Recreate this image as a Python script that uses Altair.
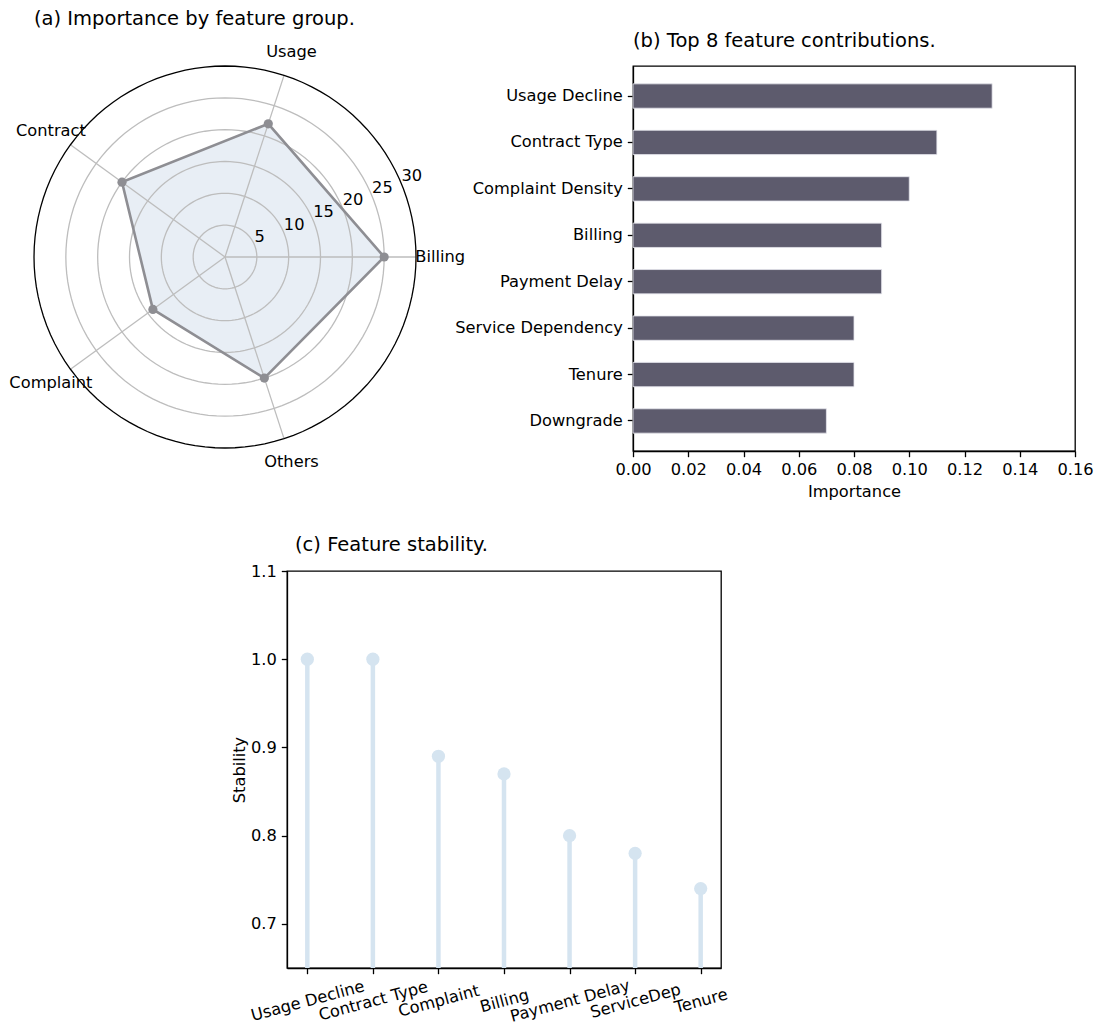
import altair as alt
import pandas as pd

# ---------------- data ----------------
# (a) radar: importance by feature group
groups = ["Billing", "Usage", "Contract", "Complaint", "Others"]
group_values = [25, 22, 20, 14, 20]
ring_values = [5, 10, 15, 20, 25, 30]

# (b) top 8 feature contributions
features = ["Usage Decline", "Contract Type", "Complaint Density", "Billing",
            "Payment Delay", "Service Dependency", "Tenure", "Downgrade"]
importances = [0.13, 0.11, 0.10, 0.09, 0.09, 0.08, 0.08, 0.07]
importance_ticks = [0.00, 0.02, 0.04, 0.06, 0.08, 0.10, 0.12, 0.14, 0.16]

# (c) feature stability
stab_features = ["Usage Decline", "Contract Type", "Complaint", "Billing",
                 "Payment Delay", "ServiceDep", "Tenure"]
stabilities = [1.0, 1.0, 0.89, 0.87, 0.80, 0.78, 0.74]
stability_ticks = [0.7, 0.8, 0.9, 1.0, 1.1]

# ---------------- style ----------------
FONT = "DejaVu Sans"
TICK_FS = 16.25
TITLE_FS = 19.5
R_MAX = 30
LABEL_R = 33.8
GRID = "#bdbdbd"
RADAR_LINE = "#8e8e93"
RADAR_FILL = "#e8eef5"
BAR = "#5d5b6d"
STEM = "#d5e4f0"


def title(text, offset, dx=0):
    return alt.TitleParams(text, anchor="start", frame="group", fontSize=TITLE_FS,
                           font=FONT, fontWeight="normal", color="black",
                           offset=offset, dx=dx)


axis_style = dict(domainColor="black", domainWidth=1.3, tickColor="black",
                  tickWidth=1.3, tickSize=5.7, labelFontSize=TICK_FS,
                  labelFont=FONT, labelColor="black", titleFontSize=TICK_FS,
                  titleFont=FONT, titleFontWeight="normal", titleColor="black",
                  grid=False, labelFlush=False)

# ---------------- (a) radar ----------------
sx = alt.Scale(domain=[-R_MAX, R_MAX], nice=False, zero=False)
sy = alt.Scale(domain=[-R_MAX, R_MAX], nice=False, zero=False)

radar_df = pd.DataFrame({"group": groups, "value": group_values,
                         "idx": list(range(len(groups)))})
ring_df = pd.DataFrame({"r": ring_values})

radar_base = alt.Chart(radar_df).transform_calculate(
    ang="datum.idx * 2 * PI / 5",
).transform_calculate(
    px="datum.value * cos(datum.ang)",
    py="datum.value * sin(datum.ang)",
    sx_="%f * cos(datum.ang)" % R_MAX,
    sy_="%f * sin(datum.ang)" % R_MAX,
    lx="%f * cos(datum.ang)" % LABEL_R,
    ly="%f * sin(datum.ang)" % LABEL_R,
    zero="0",
)

fill = radar_base.mark_line(interpolate="linear-closed", fill=RADAR_FILL,
                            strokeWidth=0, strokeOpacity=0).encode(
    x=alt.X("px:Q", scale=sx, axis=None),
    y=alt.Y("py:Q", scale=sy, axis=None),
    order="idx:Q",
)

spokes = radar_base.mark_rule(color=GRID, strokeWidth=1.3).encode(
    x=alt.X("zero:Q", scale=sx, axis=None),
    y=alt.Y("zero:Q", scale=sy, axis=None),
    x2="sx_:Q", y2="sy_:Q",
)

rings = alt.Chart(ring_df).transform_calculate(
    a="sequence(0, 361, 3)"
).transform_flatten(["a"]).transform_calculate(
    rx="datum.r * cos(datum.a * PI / 180)",
    ry="datum.r * sin(datum.a * PI / 180)",
).mark_line(strokeWidth=1.3).encode(
    x=alt.X("rx:Q", scale=sx, axis=None),
    y=alt.Y("ry:Q", scale=sy, axis=None),
    detail="r:N",
    order="a:Q",
    color=alt.condition("datum.r == %d" % R_MAX, alt.value("black"), alt.value(GRID)),
)

outline = radar_base.mark_line(interpolate="linear-closed", color=RADAR_LINE,
                               strokeWidth=2.6).encode(
    x=alt.X("px:Q", scale=sx, axis=None),
    y=alt.Y("py:Q", scale=sy, axis=None),
    order="idx:Q",
)

points = radar_base.mark_circle(size=85, color=RADAR_LINE, opacity=1).encode(
    x=alt.X("px:Q", scale=sx, axis=None),
    y=alt.Y("py:Q", scale=sy, axis=None),
)

group_labels = radar_base.mark_text(fontSize=TICK_FS, font=FONT, color="black",
                                    align="center", baseline="middle").encode(
    x=alt.X("lx:Q", scale=sx, axis=None),
    y=alt.Y("ly:Q", scale=sy, axis=None),
    text="group:N",
)

ring_labels = alt.Chart(ring_df).transform_calculate(
    tx="datum.r * cos(22.5 * PI / 180)",
    ty="datum.r * sin(22.5 * PI / 180)",
).mark_text(fontSize=TICK_FS, font=FONT, color="black",
            align="left", baseline="bottom").encode(
    x=alt.X("tx:Q", scale=sx, axis=None),
    y=alt.Y("ty:Q", scale=sy, axis=None),
    text="r:Q",
)

panel_a = alt.layer(fill, spokes, rings, outline, points, group_labels,
                    ring_labels).properties(
    width=382, height=382,
    title=title("(a) Importance by feature group.", 15),
    view=alt.ViewBackground(strokeWidth=0, stroke="white"),
)

# ---------------- (b) bars ----------------
bar_df = pd.DataFrame({"feature": features, "importance": importances})
panel_b = alt.Chart(bar_df).mark_bar(color=BAR, stroke="#e6e6ee",
                                     strokeWidth=0.8).encode(
    x=alt.X("importance:Q",
            scale=alt.Scale(domain=[0, 0.16], nice=False, zero=True),
            axis=alt.Axis(values=importance_ticks, format=".2f",
                          title="Importance", labelPadding=5, titlePadding=6,
                          **axis_style)),
    y=alt.Y("feature:N", sort=features,
            scale=alt.Scale(paddingInner=0.476, paddingOuter=0.385),
            axis=alt.Axis(title=None, labelPadding=5, **axis_style)),
).properties(
    width=442, height=385,
    title=title("(b) Top 8 feature contributions.", 15),
    view=alt.ViewBackground(stroke="black", strokeWidth=1.3),
)

# ---------------- (c) lollipop ----------------
stab_df = pd.DataFrame({"feature": stab_features, "stability": stabilities})
xs = alt.X("feature:N", sort=stab_features,
           scale=alt.Scale(type="point", padding=0.31),
           axis=alt.Axis(title=None, labelAngle=-15, labelAlign="center",
                         labelBaseline="middle", labelPadding=27,
                         **axis_style))
ys = alt.Y("stability:Q",
           scale=alt.Scale(domain=[0.65, 1.1], nice=False, zero=False),
           axis=alt.Axis(values=stability_ticks, format=".1f", title="Stability",
                         labelPadding=5, titlePadding=3, **axis_style))

stems = alt.Chart(stab_df).transform_calculate(base="0").mark_rule(
    color=STEM, strokeWidth=4.5, clip=True).encode(x=xs, y=ys, y2="base:Q")
dots = alt.Chart(stab_df).mark_circle(size=175, color=STEM, opacity=1).encode(
    x=xs, y=ys)

panel_c = alt.layer(stems, dots).properties(
    width=434, height=397,
    title=title("(c) Feature stability.", 8, dx=8),
    view=alt.ViewBackground(stroke="black", strokeWidth=1.3),
)

spacer = alt.Chart(pd.DataFrame({"v": [0]})).mark_point(opacity=0).properties(
    width=253, height=10, view=alt.ViewBackground(strokeWidth=0, stroke="white"))

row1 = alt.hconcat(panel_a, panel_b, spacing=217, bounds="flush")
row2 = alt.hconcat(spacer, panel_c, spacing=0, bounds="flush")

chart = alt.vconcat(row1, row2, spacing=32).properties(
    padding={"left": 1, "top": 0, "right": 0, "bottom": 0}
).configure(font=FONT).configure_view(strokeWidth=0)

chart.save("out.html", embed_options={"renderer": "svg", "actions": False})
